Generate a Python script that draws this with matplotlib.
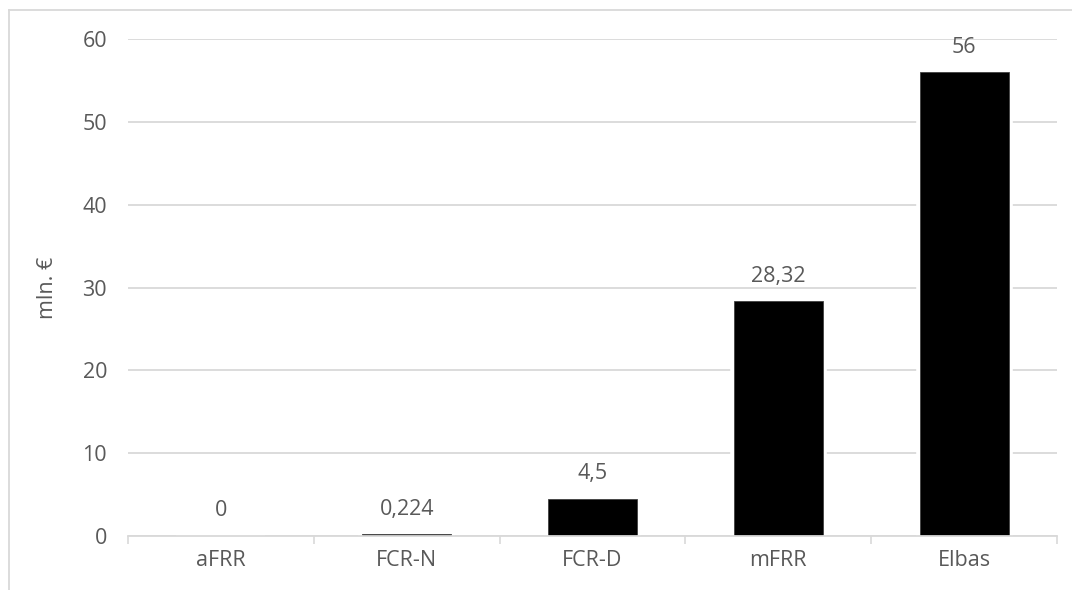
import matplotlib
matplotlib.use("Agg")
import matplotlib.pyplot as plt
from matplotlib.lines import Line2D

# Market categories and their values (mln. €)
categories = ["aFRR", "FCR-N", "FCR-D", "mFRR", "Elbas"]
values = [0, 0.224, 4.5, 28.32, 56]
value_labels = ["0", "0,224", "4,5", "28,32", "56"]
y_ticks = [0, 10, 20, 30, 40, 50, 60]

text_color = "#595959"
grid_color = "#d9d9d9"
fs = 15.5

plt.rcParams["font.family"] = ["Open Sans", "DejaVu Sans"]

fig = plt.figure(figsize=(10.72, 5.90), dpi=100)
ax = fig.add_axes([128 / 1072, 1 - 536 / 590, (1057 - 128) / 1072, (536 - 39) / 590])

x = list(range(len(categories)))
bar_w = 0.48

# white halo around the bars so gridlines stop short of them
ax.bar(x, values, width=bar_w, color="white", edgecolor="white", linewidth=5.5, zorder=2)
ax.bar(x, values, width=bar_w, color="black", edgecolor="#404040", linewidth=0.6, zorder=3)

for xi, v, lab in zip(x, values, value_labels):
    ax.annotate(lab, (xi, v), xytext=(0, 18), textcoords="offset points",
                ha="center", va="center", fontsize=fs, color=text_color)

ax.set_xlim(-0.5, len(categories) - 0.5)
ax.set_ylim(0, 60)
ax.set_yticks(y_ticks)
ax.set_yticklabels([str(t) for t in y_ticks])
ax.yaxis.grid(True, color=grid_color, linewidth=1.3, zorder=0)
ax.set_axisbelow(True)

ax.set_xticks(x)
ax.set_xticklabels(categories)
ax.set_xticks([i - 0.5 for i in range(len(categories) + 1)], minor=True)
ax.tick_params(axis="x", which="major", length=0, pad=10, labelsize=fs, labelcolor=text_color)
ax.tick_params(axis="x", which="minor", length=5.5, width=1.2, color=grid_color)
ax.tick_params(axis="y", length=0, pad=15, labelsize=fs, labelcolor=text_color)

for side in ["top", "right", "left"]:
    ax.spines[side].set_visible(False)
ax.spines["bottom"].set_color(grid_color)
ax.spines["bottom"].set_linewidth(1.3)
ax.spines["bottom"].set_zorder(5)

ax.set_ylabel("mln. €", fontsize=fs, color=text_color)
ax.yaxis.set_label_coords(-(128 - 58) / 929, 0.5)

# outer chart frame (top and left edges)
fx, fy = 8.5 / 1072, 1 - 10 / 590
fig.add_artist(Line2D([fx, 1.0], [fy, fy], color=grid_color, linewidth=1.3, transform=fig.transFigure))
fig.add_artist(Line2D([fx, fx], [0.0, fy], color=grid_color, linewidth=1.3, transform=fig.transFigure))

fig.savefig("out.png", dpi=100)
